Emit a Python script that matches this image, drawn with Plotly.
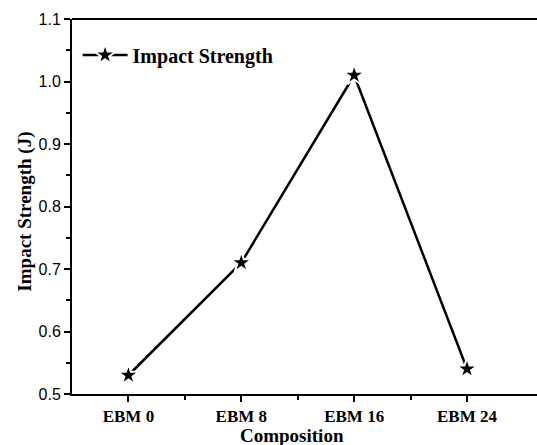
import plotly.graph_objects as go

compositions = ["EBM 0", "EBM 8", "EBM 16", "EBM 24"]
impact_strength = [0.53, 0.71, 1.01, 0.54]
x_pos = list(range(len(compositions)))

serif = "Times New Roman, Liberation Serif, serif"
sans = "Arial, Liberation Sans, sans-serif"

fig = go.Figure()
fig.add_trace(go.Scatter(
    x=x_pos, y=impact_strength, mode="lines+markers", name="<b>Impact Strength</b>",
    line=dict(color="black", width=2.5),
    marker=dict(symbol="star", size=16, color="black", line=dict(color="white", width=2)),
))

fig.update_layout(
    width=537, height=445,
    margin=dict(l=72, r=0, t=19, b=51),
    plot_bgcolor="white", paper_bgcolor="white",
    showlegend=True,
    legend=dict(x=0.012, y=0.904, xanchor="left", yanchor="middle",
                font=dict(family=serif, size=20, color="black"),
                bgcolor="rgba(0,0,0,0)", itemwidth=45),
)
fig.update_xaxes(
    range=[-0.5, 3.62], tickvals=x_pos, ticktext=[f"<b>{c}</b>" for c in compositions],
    tickfont=dict(family=serif, size=17, color="black"),
    showline=True, linecolor="black", linewidth=2, mirror=False,
    ticks="outside", ticklen=6, tickwidth=1.5, tickcolor="black",
    minor=dict(tickvals=[0.5, 1.5, 2.5], ticks="outside", ticklen=4, tickwidth=1.5, tickcolor="black"),
    showgrid=False, zeroline=False, automargin=False,
)
fig.update_yaxes(
    range=[0.5, 1.1], dtick=0.1, tickformat=".1f",
    tickfont=dict(family=sans, size=16, color="black"),
    showline=True, linecolor="black", linewidth=2,
    ticks="outside", ticklen=6, tickwidth=1.5, tickcolor="black",
    minor=dict(dtick=0.05, ticks="outside", ticklen=4, tickwidth=1.5, tickcolor="black"),
    showgrid=False, zeroline=False, automargin=False,
)
# axis titles
fig.add_annotation(text="<b>Composition</b>", xref="paper", yref="paper", x=0.473, y=-0.111,
                   xanchor="center", yanchor="middle", showarrow=False,
                   font=dict(family=serif, size=19, color="black"))
fig.add_annotation(text="<b>Impact Strength (J)</b>", xref="paper", yref="paper", x=-0.10, y=0.485,
                   xanchor="center", yanchor="middle", showarrow=False, textangle=-90,
                   font=dict(family=serif, size=19, color="black"))
# top border line
fig.add_shape(type="line", xref="paper", yref="paper", x0=0, x1=1, y0=1, y1=1,
              line=dict(color="black", width=2))

fig.write_html("out.html", config={"displayModeBar": False},
               post_script="document.body.style.margin='0';")
